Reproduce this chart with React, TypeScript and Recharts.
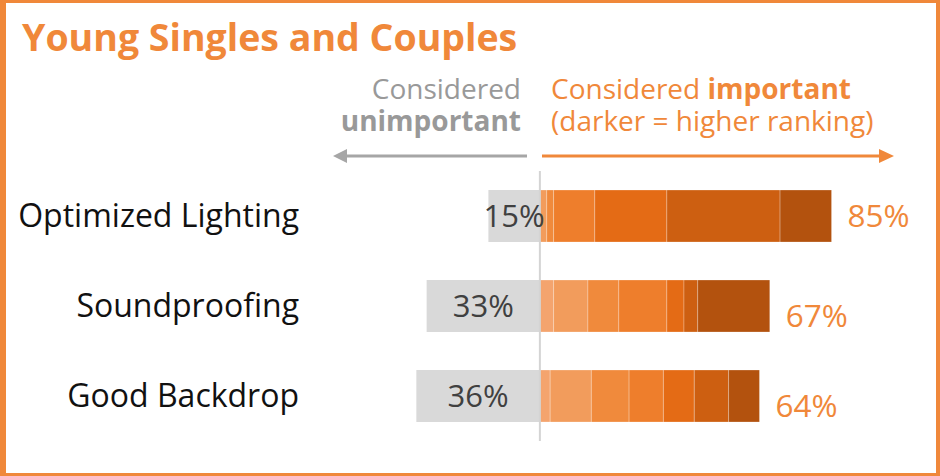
import { Bar, BarChart, LabelList, ReferenceLine, XAxis, YAxis } from 'recharts';

const categories = ['Optimized Lighting', 'Soundproofing', 'Good Backdrop'];
const unimportant = [15, 33, 36];
// share of respondents per ranking, lightest (lowest rank) to darkest
const rank1 = [0, 4, 3];
const rank2 = [2, 10, 12];
const rank3 = [2, 9, 11];
const rank4 = [12, 14, 10];
const rank5 = [21, 5, 9];
const rank6 = [33, 4, 10];
const rank7 = [15, 21, 9];
const totals = [85, 67, 64];

const ranks = [rank1, rank2, rank3, rank4, rank5, rank6, rank7];
const rankColors = ['#F4A46E', '#F29C5C', '#F08A3C', '#EE7E2C', '#E46B15', '#CD5F11', '#B3520E'];

const data = categories.map((name, i) => {
  const row: Record<string, string | number> = { name, unimportant: -unimportant[i], total: totals[i] };
  ranks.forEach((r, k) => { row[`r${k + 1}`] = r[i]; });
  return row;
});

const FONT = "'Open Sans', sans-serif";
const ORANGE = '#F0883A';
const GREY_TXT = '#999999';
// the totals of the lower two rows sit slightly below the bar centre in the original
const totalShift = [0, 10, 10];

function CategoryTick(props: any) {
  const { x, y, payload } = props;
  return (
    <text x={x} y={y} dy="0.35em" textAnchor="end" fontSize={32} fill="#111" fontFamily={FONT}>
      {payload.value}
    </text>
  );
}

function TotalLabel(props: any) {
  const { x, y, width, height, value, index } = props;
  return (
    <text
      x={x + width + 16}
      y={y + height / 2 + totalShift[index]}
      dy="0.35em"
      fontSize={31.5}
      fill={ORANGE}
      fontFamily={FONT}
    >
      {value}%
    </text>
  );
}

export default function App() {
  return (
    <div style={{ position: 'absolute', left: 0, top: 0, width: 940, height: 476, background: '#fff' }}>
      <BarChart
        width={940}
        height={476}
        data={data}
        layout="vertical"
        stackOffset="sign"
        margin={{ top: 171, right: 57, bottom: 35, left: 0 }}
      >
        <XAxis type="number" domain={[-60, 100]} hide />
        <YAxis
          type="category"
          dataKey="name"
          width={334}
          axisLine={false}
          tickLine={false}
          tickSize={0}
          tickMargin={35}
          tick={<CategoryTick />}
        />
        <Bar dataKey="unimportant" stackId="a" fill="#D9D9D9" barSize={52} isAnimationActive={false}>
          <LabelList
            dataKey="unimportant"
            position="center"
            formatter={(v: any) => `${Math.abs(Number(v))}%`}
            fill="#404040"
            fontSize={31}
            fontFamily={FONT}
          />
        </Bar>
        {rankColors.map((c, k) => (
          <Bar
            key={k}
            dataKey={`r${k + 1}`}
            stackId="a"
            fill={c}
            stroke="#ffffff"
            strokeOpacity={0.25}
            strokeWidth={1}
            barSize={52}
            isAnimationActive={false}
          >
            {k === rankColors.length - 1 && <LabelList dataKey="total" content={<TotalLabel />} />}
          </Bar>
        ))}
        <ReferenceLine x={0} stroke="#D4D4D4" strokeWidth={2} />
      </BarChart>

      <svg
        width={940}
        height={476}
        style={{ position: 'absolute', left: 0, top: 0, pointerEvents: 'none' }}
        fontFamily={FONT}
      >
        {/* frame */}
        <rect x={0} y={0} width={940} height={3} fill={ORANGE} />
        <rect x={0} y={473} width={940} height={3} fill={ORANGE} />
        <rect x={0} y={0} width={6} height={476} fill={ORANGE} />
        <rect x={936} y={0} width={4} height={476} fill={ORANGE} />

        <text x={22} y={51} fontSize={37.5} fontWeight={700} fill={ORANGE}>Young Singles and Couples</text>

        <text x={521} y={99} fontSize={28} fill={GREY_TXT} textAnchor="end">Considered</text>
        <text x={521} y={131} fontSize={28} fontWeight={700} fill={GREY_TXT} textAnchor="end">unimportant</text>
        <text x={551} y={99} fontSize={28} fill={ORANGE}>
          Considered <tspan fontWeight={700}>important</tspan>
        </text>
        <text x={551} y={131} fontSize={28} fill={ORANGE}>(darker = higher ranking)</text>

        <line x1={346} y1={156} x2={527} y2={156} stroke="#A6A6A6" strokeWidth={3} />
        <polygon points="333,156 347,149 347,163" fill="#A6A6A6" />
        <line x1={542} y1={156} x2={880} y2={156} stroke={ORANGE} strokeWidth={3} />
        <polygon points="894,156 879,149 879,163" fill={ORANGE} />
      </svg>
    </div>
  );
}
